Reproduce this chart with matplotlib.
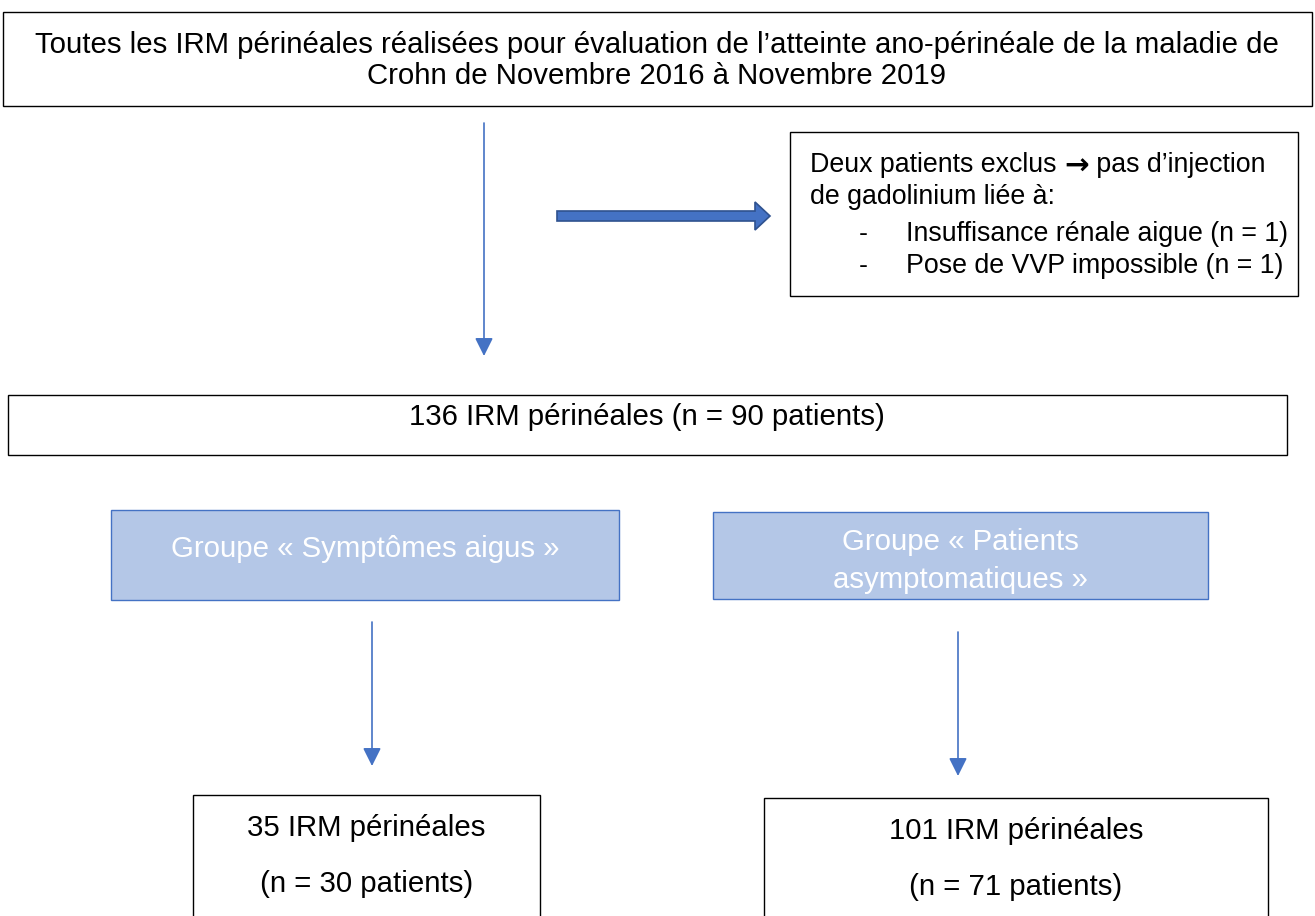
import matplotlib.pyplot as plt
from matplotlib.patches import Rectangle, FancyArrow

# --- Colours ---
BLUE = '#4472C4'
BLUE_DARK = '#2F528F'
GROUP_FILL = '#B4C7E7'
FONT = ['Liberation Sans', 'DejaVu Sans']
FS = 21.2
FS_EXCL = 19.3

# --- Texts ---
top_lines = ["Toutes les IRM périnéales réalisées pour évaluation de l\u2019atteinte ano-périnéale de la maladie de",
             "Crohn de Novembre 2016 à Novembre 2019"]
excl_head = ["Deux patients exclus ", "\u2192", " pas d\u2019injection"]
excl_line2 = "de gadolinium liée à:"
excl_items = ["Insuffisance rénale aigue (n = 1)",
              "Pose de VVP impossible (n = 1)"]
total_label = "136 IRM périnéales (n = 90 patients)"
group_labels = [["Groupe « Symptômes aigus »"], ["Groupe « Patients", "asymptomatiques »"]]
group_irm = [35, 101]
group_patients = [30, 71]

fig = plt.figure(figsize=(13.15, 9.16), dpi=100)
ax = fig.add_axes([0, 0, 1, 1])
ax.set_xlim(0, 1315)
ax.set_ylim(916, 0)
ax.axis('off')


def box(x0, y0, x1, y1, fc='white', ec='black', lw=1.0):
    ax.add_patch(Rectangle((x0, y0), x1 - x0, y1 - y0, facecolor=fc, edgecolor=ec, lw=lw, zorder=2))


def label(x, y, s, ha='center', fs=FS, color='black'):
    return ax.text(x, y, s, ha=ha, va='center_baseline', fontsize=fs, family=FONT,
                   color=color, zorder=3)


def down_arrow(x, y0, y1):
    ax.annotate("", xy=(x, y1), xytext=(x, y0),
                arrowprops=dict(arrowstyle="-|>,head_length=1.1,head_width=0.55",
                                color=BLUE, lw=1.2, shrinkA=0, shrinkB=0), zorder=3)


# --- Top box ---
box(3, 12, 1312, 106)
label(657, 42, top_lines[0])
label(657, 73, top_lines[1])

down_arrow(484, 123, 356)

# --- Block arrow to exclusion box ---
ax.add_patch(FancyArrow(557, 216, 213, 0, width=10, head_width=28, head_length=15,
                        length_includes_head=True, facecolor=BLUE, edgecolor=BLUE_DARK,
                        lw=1.2, zorder=3))

# --- Exclusion box ---
box(790, 132, 1298, 296)
t1 = label(810, 162, excl_head[0], ha='left', fs=FS_EXCL)
t2 = ax.annotate(excl_head[1], xy=(1, 0.45), xycoords=t1, ha='left', va='center',
                 fontsize=FS_EXCL * 1.1, family='DejaVu Sans', fontweight='bold', zorder=3)
ax.annotate(excl_head[2], xy=(1, 0), xycoords=(t2, t1), ha='left', va='bottom',
            fontsize=FS_EXCL, family=FONT, zorder=3)
label(810, 194, excl_line2, ha='left', fs=FS_EXCL)
for i, item in enumerate(excl_items):
    y = 231 + i * 32
    label(859, y, "-", ha='left', fs=FS_EXCL)
    label(906, y, item, ha='left', fs=FS_EXCL)

# --- Total box ---
box(8, 395, 1287, 455)
label(647, 414, total_label)

# --- Groups ---
group_boxes = [(111, 510, 619, 600), (713, 512, 1208, 599)]
group_text_y = [[546], [539, 577]]
arrows = [(372, 622, 766), (958, 632, 776)]
result_boxes = [(193, 795, 540, 930), (764, 798, 1268, 930)]
result_y = [(825, 881), (828, 884)]

for i in range(2):
    x0, y0, x1, y1 = group_boxes[i]
    box(x0, y0, x1, y1, fc=GROUP_FILL, ec=BLUE, lw=1.0)
    for s, y in zip(group_labels[i], group_text_y[i]):
        label((x0 + x1) / 2, y, s, color='white')

    down_arrow(*arrows[i])

    x0, y0, x1, y1 = result_boxes[i]
    box(x0, y0, x1, y1)
    cx = (x0 + x1) / 2
    label(cx, result_y[i][0], f"{group_irm[i]} IRM périnéales")
    label(cx, result_y[i][1], f"(n = {group_patients[i]} patients)")

fig.savefig('out.png', dpi=100, facecolor='white')
